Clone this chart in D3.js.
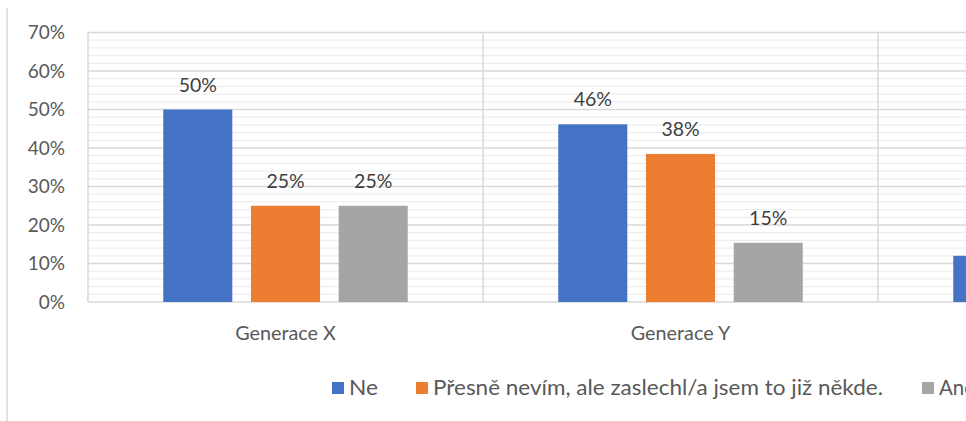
<!DOCTYPE html>
<html>
<head>
<meta charset="utf-8">
<script src="https://cdn.jsdelivr.net/npm/d3@7"></script>
<style>
  html, body { margin: 0; padding: 0; background: #fff; overflow: hidden; }
  svg { display: block; }
  text { font-family: Lato, "Open Sans", sans-serif; }
</style>
</head>
<body>
<svg id="chart" width="966" height="421"></svg>
<script>
// ---- data ----
const categories = ["Generace X", "Generace Y", "Generace Z"];
const seriesNames = ["Ne", "Přesně nevím, ale zaslechl/a jsem to již někde.", "Ano"];
const seriesColors = ["#4472C4", "#ED7D31", "#A5A5A5"];
const valuesNe = [0.50, 0.4615, 0.12];
const valuesNevim = [0.25, 0.3846, null];
const valuesAno = [0.25, 0.1538, null];
const yTicks = [0, 0.1, 0.2, 0.3, 0.4, 0.5, 0.6, 0.7];

const series = [valuesNe, valuesNevim, valuesAno];

const svg = d3.select("#chart");
const W = 966, H = 421;
const plotLeft = 88, plotTop = 32.5, plotBottom = 302, bandW = 395;

const x = d3.scaleBand().domain(categories).range([plotLeft, plotLeft + bandW * categories.length]).paddingInner(0).paddingOuter(0);
const xs = d3.scaleBand().domain(d3.range(seriesNames.length)).range([0, bandW]).paddingInner(0.213).paddingOuter(0.858);
const y = d3.scaleLinear().domain([0, 0.7]).range([plotBottom, plotTop]);

// outer chart border (left edge visible)
svg.append("line").attr("x1", 7).attr("x2", 7).attr("y1", 8).attr("y2", H)
  .attr("stroke", "#d9d9d9").attr("stroke-width", 1.5);

// minor gridlines
const minor = d3.range(0, 0.7001, 0.02).filter(v => Math.round(v * 100) % 10 !== 0);
svg.append("g").selectAll("line").data(minor).join("line")
  .attr("x1", plotLeft).attr("x2", W)
  .attr("y1", d => y(d)).attr("y2", d => y(d))
  .attr("stroke", "#eeeeee").attr("stroke-width", 1.2);

// major gridlines
svg.append("g").selectAll("line").data(yTicks).join("line")
  .attr("x1", plotLeft).attr("x2", W)
  .attr("y1", d => y(d)).attr("y2", d => y(d))
  .attr("stroke", "#d9d9d9").attr("stroke-width", 1.3);

// category dividers
const dividers = categories.map(c => x(c));
svg.append("g").selectAll("line").data(dividers).join("line")
  .attr("x1", d => d).attr("x2", d => d)
  .attr("y1", plotTop).attr("y2", plotBottom)
  .attr("stroke", "#d9d9d9").attr("stroke-width", 1.5);

// y axis labels
const yAxis = d3.axisLeft(y).tickValues(yTicks).tickFormat(d3.format(".0%")).tickSize(0).tickPadding(23);
const ya = svg.append("g").attr("transform", `translate(${plotLeft},0)`).call(yAxis);
ya.select(".domain").remove();
ya.selectAll("text").attr("fill", "#595959").style("font-size", "19px").style("font-family", "Lato, 'Open Sans', sans-serif");

// x axis labels (only those that fall inside the visible area)
const xAxis = d3.axisBottom(x).tickSize(0).tickPadding(24);
const xa = svg.append("g").attr("transform", `translate(0,${plotBottom})`).call(xAxis);
xa.select(".domain").remove();
xa.selectAll(".tick").filter(d => x(d) + x.bandwidth() / 2 + 50 > W).remove();
xa.selectAll("text").attr("fill", "#595959").style("font-size", "19.8px").style("font-family", "Lato, 'Open Sans', sans-serif");

// bars
series.forEach((vals, si) => {
  const g = svg.append("g");
  const data = categories.map((c, ci) => ({ c, v: vals[ci] })).filter(d => d.v != null);
  g.selectAll("rect").data(data).join("rect")
    .attr("x", d => x(d.c) + xs(si))
    .attr("width", xs.bandwidth())
    .attr("y", d => y(d.v))
    .attr("height", d => y(0) - y(d.v))
    .attr("fill", seriesColors[si]);
  g.selectAll("text").data(data.filter(d => x(d.c) + xs(si) + xs.bandwidth() / 2 + 20 < W)).join("text")
    .attr("x", d => x(d.c) + xs(si) + xs.bandwidth() / 2)
    .attr("y", d => y(d.v) - 18)
    .attr("text-anchor", "middle")
    .attr("fill", "#404040")
    .style("font-size", "19.5px")
    .text(d => Math.round(d.v * 100) + "%");
});

// legend
const legendX = [332, 416, 922];
const legendLen = [29, 450, null];
const lg = svg.append("g");
seriesNames.forEach((n, i) => {
  lg.append("rect").attr("x", legendX[i]).attr("y", 382).attr("width", 12).attr("height", 12).attr("fill", seriesColors[i]);
  const t = lg.append("text").attr("x", legendX[i] + 17).attr("y", 395).attr("fill", "#595959")
    .style("font-size", "20.5px").text(n);
  if (legendLen[i]) t.attr("textLength", legendLen[i]).attr("lengthAdjust", "spacingAndGlyphs");
});
</script>
</body>
</html>
